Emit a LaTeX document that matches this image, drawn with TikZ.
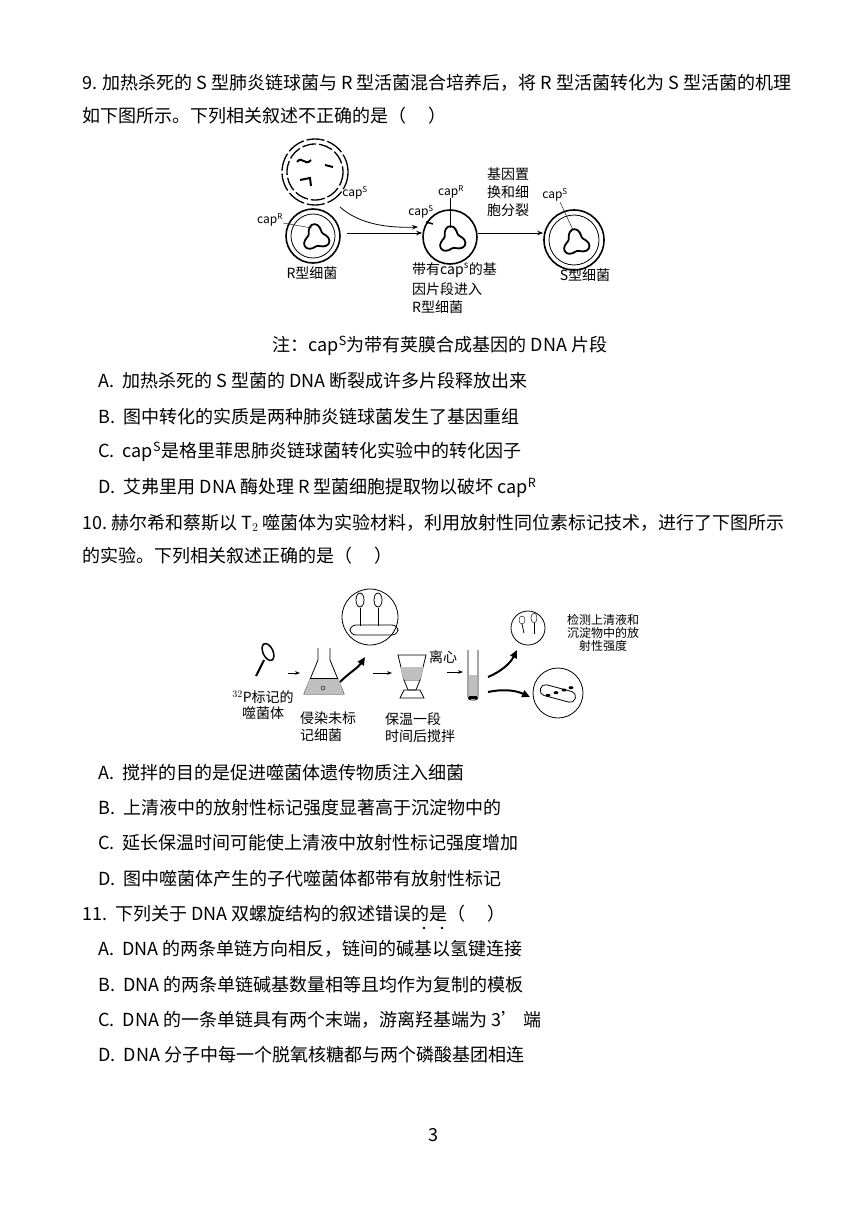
\documentclass[tikz,border=0pt]{standalone}
\usepackage{fontspec}
\setmainfont{Noto Sans CJK SC}
\usetikzlibrary{arrows.meta}
\tikzset{
  txt/.style={anchor=west,inner sep=0pt,font=\fontsize{18}{18}\selectfont},
  lbl/.style={inner sep=0pt,font=\fontsize{14}{14}\selectfont},
  sml/.style={inner sep=0pt,font=\fontsize{12}{12}\selectfont},
  cell/.style={draw,line width=1.6pt,circle},
  arr/.style={-{Stealth[length=6pt]},thick},
  barr/.style={-{Triangle[length=8pt,width=7pt]},line width=2pt}
}
\newcommand\nucleoid[2]{\draw[line width=1.8pt,shift={(#1,#2)}] plot[smooth cycle,samples=30,domain=0:348] ({(11+3*sin(3*\x+30))*cos(\x)},{(11+3*sin(3*\x+30))*sin(\x)});}
\begin{document}
\begin{tikzpicture}[x=1pt,y=-1pt]
\useasboundingbox (0,0) rectangle (866,1225);
% question 9
\node[txt] (q9a) at (82,83) {9. 加热杀死的\ S\ 型肺炎链球菌与\ R\ 型活菌混合培养后，将\ R\ 型活菌转化为\ S\ 型活菌的机理};
\node[txt] (q9b) at (82,116) {如下图所示。下列相关叙述不正确的是（\quad\ ）};
% figure 1
\draw[line width=1.3pt,dash pattern=on 18pt off 3pt] (315,172) circle (33);
\draw[line width=1.3pt,dash pattern=on 14pt off 3pt] (315,172) circle (28);
\draw[line width=2pt] (297,162) .. controls (302,155) and (305,167) .. (311,160);
\draw[line width=2pt] (300,180) -- (310,178) -- (311,186);
\draw[line width=2pt] (325,165) -- (333,167);
\node[cell,minimum size=54pt] (rcell) at (313,236) {};
\draw[line width=0.8pt] (313,236) circle (22);
\nucleoid{316}{238}
\node[sml] (capr1) at (270,220) {cap$^{\rm R}$};
\draw (283,223) -- (312,228);
\node[sml] (caps1) at (355,193) {cap$^{\rm S}$};
\node[lbl] (rlab) at (312,273) {R型细菌};
\node[cell,minimum size=54pt] (mcell) at (450,237) {};
\nucleoid{452}{240}
\node[sml] (capr2) at (451,192) {cap$^{\rm R}$};
\draw (450,198) -- (450,228);
\node[sml] (caps2) at (421,212) {cap$^{\rm S}$};
\draw[line width=1.5pt] (426,222) -- (433,224);
\node[lbl,align=left,anchor=north west] (mlab) at (412,262) {带有cap$^{\rm s}$的基\\[4pt]因片段进入\\[4pt]R型细菌};
\node[lbl,align=left,anchor=north west] (glab) at (487,168) {基因置\\[4pt]换和细\\[4pt]胞分裂};
\node[cell,minimum size=60pt] (scell) at (574,240) {};
\draw[line width=0.8pt] (574,240) circle (25);
\nucleoid{576}{243}
\node[sml] (caps3) at (555,195) {cap$^{\rm S}$};
\draw (560,202) -- (573,230);
\node[lbl] (slab) at (585,275) {S型细菌};
\draw[arr] (347,233) -- (mcell.west|-450,233);
\draw[arr] (340,207) .. controls (360,225) and (390,228) .. (418,227);
\draw[arr] (mcell.east|-450,233) -- (scell.west|-450,233);
\node[txt,anchor=center] (note) at (440,346) {注：cap$^{\rm S}$为带有荚膜合成基因的\ DNA\ 片段};
\node[txt] (a9) at (98,381) {A.\ \ 加热杀死的\ S\ 型菌的\ DNA\ 断裂成许多片段释放出来};
\node[txt] (b9) at (98,417) {B.\ \ 图中转化的实质是两种肺炎链球菌发生了基因重组};
\node[txt] (c9) at (98,452) {C.\ \ cap$^{\rm S}$是格里菲思肺炎链球菌转化实验中的转化因子};
\node[txt] (d9) at (98,488) {D.\ \ 艾弗里用\ DNA\ 酶处理\ R\ 型菌细胞提取物以破坏\ cap$^{\rm R}$};
% question 10
\node[txt] (q10a) at (82,523) {10.\ 赫尔希和蔡斯以\ T$_2$\ 噬菌体为实验材料，利用放射性同位素标记技术，进行了下图所示};
\node[txt] (q10b) at (82,556) {的实验。下列相关叙述正确的是（\quad\ ）};
% figure 2
\draw[line width=2pt] (256,676) -- (264,660);
\draw[fill=white,line width=1.5pt,rotate around={25:(268,652)}] (268,652) ellipse (5 and 9);
\node[lbl,align=center] (plab) at (263,705) {$^{32}$P标记的\\[2pt]噬菌体};
\draw[thick] (318,648) -- (318,660) -- (304,694) -- (344,694) -- (330,660) -- (330,648);
\fill[gray!50] (310,678) -- (338,678) -- (344,694) -- (304,694) -- cycle;
\draw[thick] (310,678) -- (338,678);
\draw (323,688) circle (2);
\node[lbl,align=left,anchor=north west] (flab) at (300,712) {侵染未标\\[3pt]记细菌};
\node[draw,thick,circle,minimum size=56pt] (c1) at (370,617) {};
\draw[thick,rounded corners=6pt] (350,625) rectangle (398,635);
\foreach \px in {360,378}{
  \draw[thick] (\px,608) -- (\px,626);
  \draw[fill=white,thick] (\px,600) ellipse (4 and 7);
}
\draw[thick] (398,655) -- (426,655) -- (420,680) -- (404,680) -- cycle;
\fill[gray!50] (400,667) -- (424,667) -- (420,680) -- (404,680) -- cycle;
\draw[thick] (404,680) -- (408,690) -- (416,690) -- (420,680);
\draw[thick] (400,698) -- (404,690) -- (420,690) -- (424,698) -- cycle;
\node[lbl,align=left,anchor=north west] (blab) at (385,712) {保温一段\\[3pt]时间后搅拌};
\node[lbl] (lx) at (443,657) {离心};
\draw[thick,rounded corners=3pt] (468,650) -- (468,700) -- (478,700) -- (478,650);
\fill[gray!50] (469,675) rectangle (477,697);
\fill (469,696) rectangle (477,699);
\node[draw,thick,circle,minimum size=34pt] (c2) at (528,628) {};
\draw[thick] (524,633) -- (522,624); \draw[fill=white] (522,620) ellipse (3 and 4);
\draw[thick] (534,634) -- (534,622); \draw[fill=white] (534,618) ellipse (3 and 5);
\node[draw,thick,circle,minimum size=50pt] (c3) at (558,693) {};
\draw[thick,rounded corners=5pt,rotate around={-15:(558,693)}] (540,688) rectangle (576,699);
\foreach \dx in {-10,-2,6,13}{\fill (558+\dx,692-\dx/3) ellipse (2.5 and 1.5);}
\node[sml,align=center] (dlab) at (603,633) {检测上清液和\\[1pt]沉淀物中的放\\[1pt]射性强度};
\draw[-{Stealth[length=5pt]},thick] (288,673) -- (300,673);
\draw[barr] (340,682) .. controls (350,672) and (358,668) .. (365,657);
\draw[-{Stealth[length=5pt]},thick] (373,673) -- (392,673);
\draw[-{Stealth[length=5pt]},thick] (447,672) -- (463,672);
\draw[barr] (488,677) .. controls (500,672) and (510,664) .. (517,650);
\draw[barr] (488,692) .. controls (502,689) and (515,690) .. (530,697);
\node[txt] (a10) at (98,773) {A.\ \ 搅拌的目的是促进噬菌体遗传物质注入细菌};
\node[txt] (b10) at (98,808) {B.\ \ 上清液中的放射性标记强度显著高于沉淀物中的};
\node[txt] (c10) at (98,843) {C.\ \ 延长保温时间可能使上清液中放射性标记强度增加};
\node[txt] (d10) at (98,879) {D.\ \ 图中噬菌体产生的子代噬菌体都带有放射性标记};
% question 11
\node[txt] (q11) at (82,914) {11.\ \ 下列关于\ DNA\ 双螺旋结构的叙述错误的是（\quad\ ）};
\fill (424,928) circle (1.3) (442,928) circle (1.3);
\node[txt] (a11) at (98,949) {A.\ \ DNA\ 的两条单链方向相反，链间的碱基以氢键连接};
\node[txt] (b11) at (98,985) {B.\ \ DNA\ 的两条单链碱基数量相等且均作为复制的模板};
\node[txt] (c11) at (98,1020) {C.\ \ DNA\ 的一条单链具有两个末端，游离羟基端为\ 3'\ 端};
\node[txt] (d11) at (98,1055) {D.\ \ DNA\ 分子中每一个脱氧核糖都与两个磷酸基团相连};
\node[txt,anchor=center] (pg) at (433,1135) {3};
\end{tikzpicture}
\end{document}
